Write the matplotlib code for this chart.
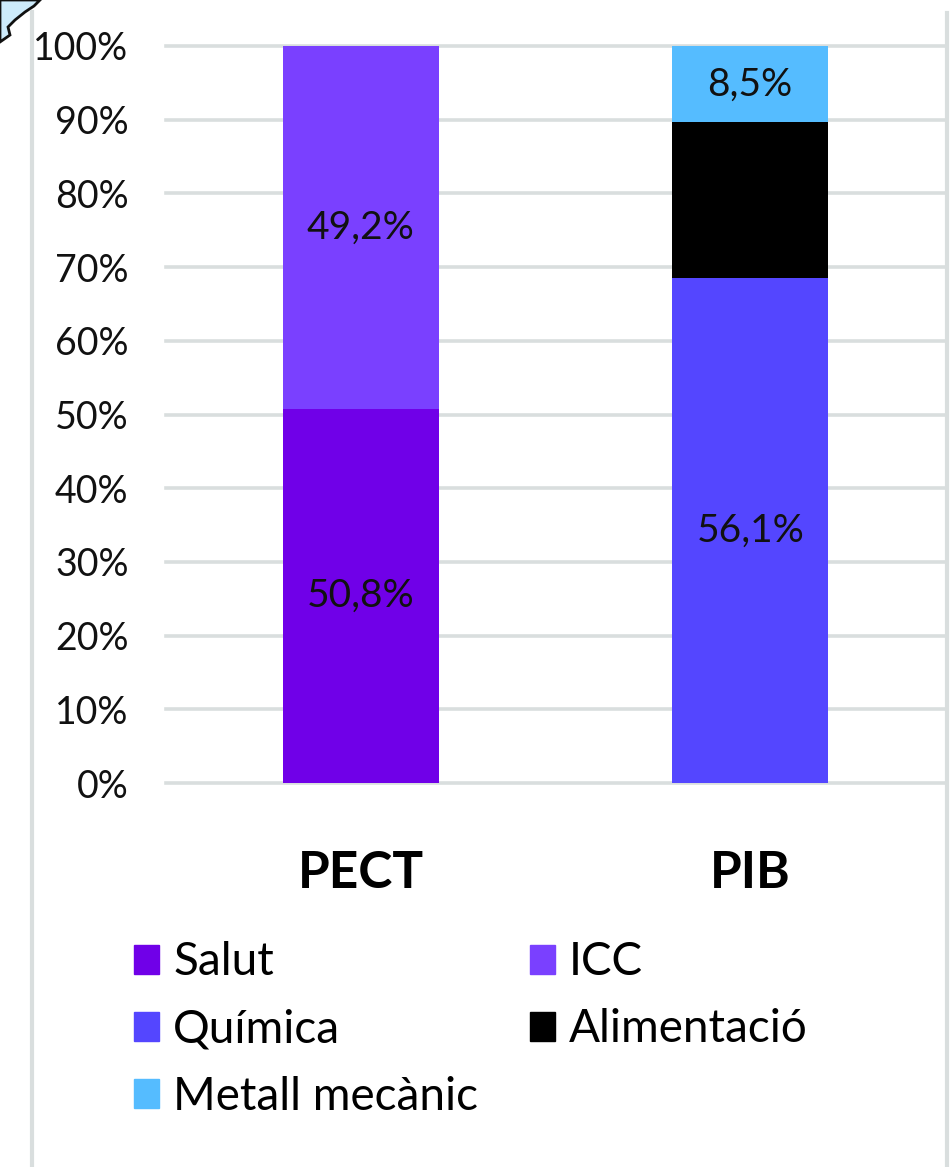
import matplotlib
matplotlib.use("Agg")
import matplotlib.pyplot as plt
from matplotlib.patches import Polygon
from matplotlib.lines import Line2D
import numpy as np

plt.rcParams['font.family'] = ['Lato', 'DejaVu Sans']

categories = ["PECT", "PIB"]
series = ["Salut", "ICC", "Química", "Alimentació", "Metall mecànic"]
# raw shares per category (stacked to 100%)
salut = [50.8, 0.0]
icc = [49.2, 0.0]
quimica = [0.0, 56.1]
alimentacio = [0.0, 17.3]
metall = [0.0, 8.5]
show_label = {"Salut": True, "ICC": True, "Química": True, "Alimentació": False, "Metall mecànic": True}
colors = ["#7000E8", "#7A40FF", "#5446FF", "#000000", "#55BCFF"]
yticks = [0, 10, 20, 30, 40, 50, 60, 70, 80, 90, 100]

W, H = 953, 1167
fig = plt.figure(figsize=(W / 100, H / 100), dpi=100)
ax = fig.add_axes([166 / W, 1 - 783 / H, (945 - 166) / W, (783 - 46) / H])

raw = np.array([salut, icc, quimica, alimentacio, metall])
totals = raw.sum(axis=0)
pct = raw / totals * 100

x = np.arange(len(categories))
grid_c = "#D9DEDE"
for v in yticks:
    ax.axhline(v, color=grid_c, lw=2.6, zorder=0, clip_on=False)

bottom = np.zeros(len(categories))
for name, vals, rawv, col in zip(series, pct, raw, colors):
    ax.bar(x, vals, width=0.4, bottom=bottom, color=col, label=name, zorder=2)
    if show_label[name]:
        for xi, v, b, r in zip(x, vals, bottom, rawv):
            if r > 0:
                ax.text(xi, b + v / 2, f"{r:.1f}%".replace(".", ","), ha="center", va="center",
                        fontsize=28, color="#111111", zorder=3)
    bottom += vals

ax.set_xlim(-0.5, 1.5)
ax.set_ylim(0, 100)
ax.set_yticks(yticks)
ax.set_yticklabels([f"{v}%" for v in yticks], fontsize=27, color="#111111")
ax.set_xticks(x)
ax.set_xticklabels(categories, fontsize=37, fontweight="bold", color="#000000")
ax.tick_params(axis="y", length=0, pad=27)
ax.tick_params(axis="x", length=0, pad=48)
for s in ax.spines.values():
    s.set_visible(False)

handles = [plt.Rectangle((0, 0), 1, 1, color=c) for c in colors]
order = [0, 2, 4, 1, 3]
leg = fig.legend([handles[i] for i in order], [series[i] for i in order], ncol=2,
                 loc="upper left", bbox_to_anchor=(93 / W, 1 - 900 / H),
                 fontsize=33, frameon=False, handlelength=0.55, handleheight=0.6,
                 handletextpad=0.3, columnspacing=1.12, labelspacing=0.55)

# page frame lines
fig.add_artist(Line2D([32 / W, 32 / W], [0, 1 - 12 / H], color=grid_c, lw=3))
fig.add_artist(Line2D([947 / W, 947 / W], [0, 1 - 13 / H], color=grid_c, lw=3))

# corner of the neighbouring map shape
blob = [(0, 0), (40, 0), (34, 6), (25, 12), (15, 20), (8, 27), (10, 35), (0, 42)]
fig.add_artist(Polygon([(px / W, 1 - py / H) for px, py in blob], closed=True,
                       facecolor="#CDEBFB", edgecolor="#111111", lw=2,
                       transform=fig.transFigure))

fig.savefig("out.png", dpi=100)
